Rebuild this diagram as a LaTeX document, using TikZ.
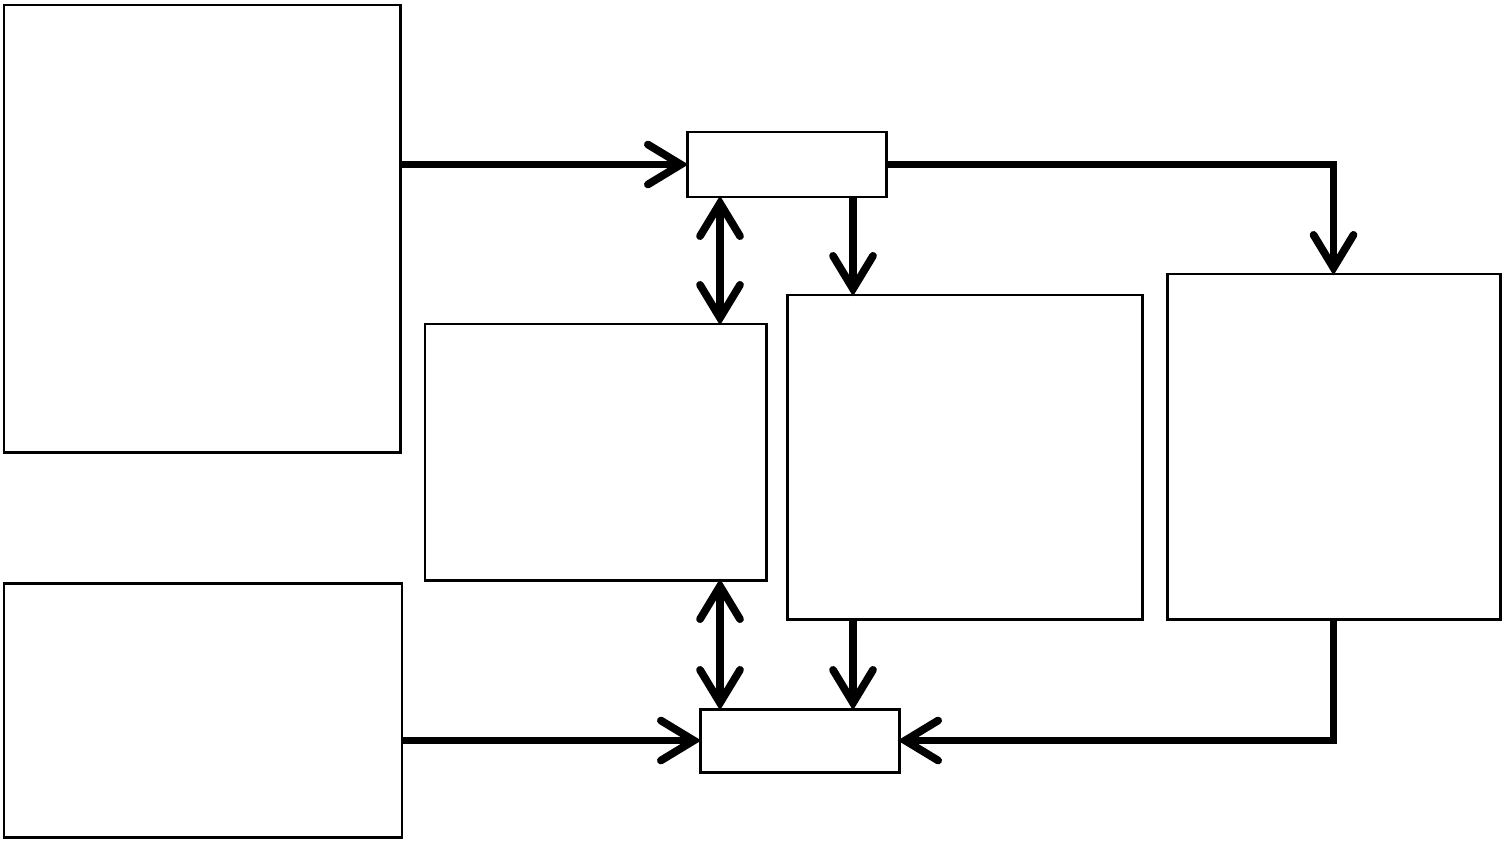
\documentclass[tikz,border=0pt]{standalone}
\usetikzlibrary{arrows.meta}

\begin{document}
\begin{tikzpicture}[
    % box styles
    block/.style={draw, line width=0.85pt, inner sep=0pt, minimum width=#1},
    arrow/.style={-{Straight Barb[length=3.3mm, width=4mm, line cap=round]}, line width=2.2pt, shorten >=-0.8pt},
    dblarrow/.style={{Straight Barb[length=3.3mm, width=4mm, line cap=round]}-{Straight Barb[length=3.3mm, width=4mm, line cap=round]}, line width=2.2pt, shorten >=-0.8pt, shorten <=-0.8pt},
]
\useasboundingbox (0, 0) rectangle (15.04, -8.40);

% ========== left blocks ==========
\node[block=3.96cm, minimum height=4.47cm] (src) at (2.02, -2.285) {};
\node[block=3.98cm, minimum height=2.54cm] (aux) at (2.03, -7.10) {};

% ========== small hubs ==========
\node[block=1.99cm, minimum height=0.65cm] (hubtop) at (7.865, -1.645) {};
\node[block=1.99cm, minimum height=0.63cm] (hubbot) at (7.995, -7.405) {};

% ========== middle / right blocks ==========
\node[block=3.41cm, minimum height=2.56cm] (mid) at (5.955, -4.52) {};
\node[block=3.55cm, minimum height=3.24cm] (proc) at (9.645, -4.57) {};
\node[block=3.33cm, minimum height=3.45cm] (right) at (13.335, -4.465) {};

% vertical lanes
\coordinate (laneA) at (7.20, 0);
\coordinate (laneB) at (8.53, 0);

% ========== connections ==========
\draw[arrow] (src.east |- hubtop.west) -- (hubtop.west);
\draw[arrow] (hubtop.east) -| (right.north);
\draw[arrow] (hubtop.south -| laneB) -- (proc.north -| laneB);
\draw[dblarrow] (hubtop.south -| laneA) -- (mid.north -| laneA);
\draw[dblarrow] (mid.south -| laneA) -- (hubbot.north -| laneA);
\draw[arrow] (proc.south -| laneB) -- (hubbot.north -| laneB);
\draw[arrow] (aux.east |- hubbot.west) -- (hubbot.west);
\draw[arrow] (right.south) |- (hubbot.east);

\end{tikzpicture}
\end{document}
